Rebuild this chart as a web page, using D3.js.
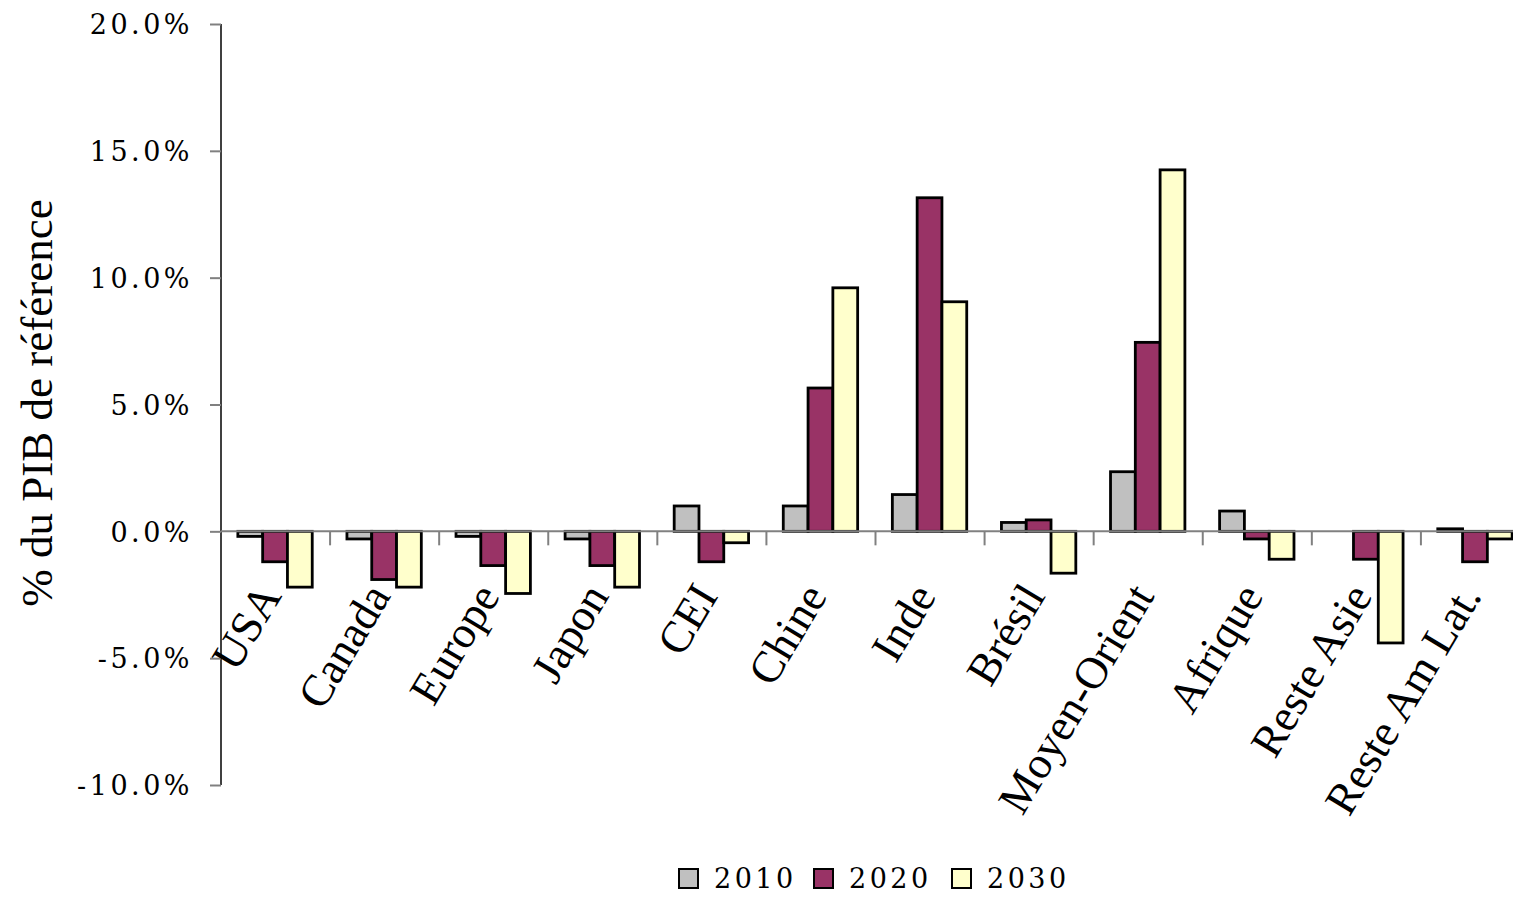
<!DOCTYPE html>
<html>
<head>
<meta charset="utf-8">
<script src="https://cdn.jsdelivr.net/npm/d3@7"></script>
<style>
  body { margin: 0; background: #fff; }
  svg { display: block; }
</style>
</head>
<body>
<svg id="chart" width="1513" height="897"></svg>
<script>
// regions, series and values (% of reference GDP)
var categories = ['USA', 'Canada', 'Europe', 'Japon', 'CEI', 'Chine', 'Inde', 'Brésil',
                  'Moyen-Orient', 'Afrique', 'Reste Asie', 'Reste Am Lat.'];
var seriesNames = ['2010', '2020', '2030'];
var values2010 = [-0.2, -0.3, -0.2, -0.3, 1.0, 1.0, 1.45, 0.35, 2.35, 0.8, 0.0, 0.1];
var values2020 = [-1.2, -1.9, -1.35, -1.35, -1.2, 5.65, 13.15, 0.45, 7.45, -0.3, -1.1, -1.2];
var values2030 = [-2.2, -2.2, -2.45, -2.2, -0.45, 9.6, 9.05, -1.65, 14.25, -1.1, -4.4, -0.3];
var yTicks = [-10, -5, 0, 5, 10, 15, 20];
var colors = ['#c0c0c0', '#993366', '#ffffcc'];

var allValues = [values2010, values2020, values2030];

var svg = d3.select('#chart');

var x = d3.scaleBand()
    .domain(categories)
    .range([221, 1530])
    .paddingInner(0)
    .paddingOuter(0);

var y = d3.scaleLinear()
    .domain([-10, 20])
    .range([785, 24]);

// 140% gap between groups, as in the spreadsheet
var barW = x.bandwidth() / 4.4;

var xs = d3.scaleBand()
    .domain(seriesNames)
    .range([barW * 0.68, barW * 3.68]);

//// y axis
var yAxis = svg.append('g')
    .attr('transform', 'translate(221,0)')
    .call(d3.axisLeft(y)
        .tickValues(yTicks)
        .tickSize(11)
        .tickPadding(17)
        .tickFormat(function (d) { return d.toFixed(1) + '%'; }));

yAxis.select('.domain')
    .attr('stroke', '#000')
    .attr('stroke-width', 1.5)
    .attr('d', 'M0,' + y(20) + 'V' + y(-10));
yAxis.selectAll('.tick line')
    .attr('stroke', '#808080')
    .attr('stroke-width', 2);
yAxis.selectAll('.tick text')
    .attr('fill', '#000')
    .attr('font-family', '"DejaVu Serif", Georgia, serif')
    .attr('font-size', 27)
    .attr('letter-spacing', 3.5)
    .attr('dy', '0.36em');

//// bars
var groups = svg.append('g')
  .selectAll('g')
  .data(categories)
  .join('g')
    .attr('transform', function (d) { return 'translate(' + x(d) + ',0)'; });

groups.selectAll('rect')
  .data(function (d, i) {
    return seriesNames.map(function (s, j) { return {s: s, v: allValues[j][i], c: colors[j]}; })
        .filter(function (e) { return e.v !== 0; });
  })
  .join('rect')
    .attr('x', function (d) { return xs(d.s); })
    .attr('width', xs.bandwidth())
    .attr('y', function (d) { return y(Math.max(0, d.v)); })
    .attr('height', function (d) { return Math.abs(y(d.v) - y(0)); })
    .attr('fill', function (d) { return d.c; })
    .attr('stroke', '#000')
    .attr('stroke-width', 2.8);

//// zero line with category ticks
var xAxis = svg.append('g')
    .attr('transform', 'translate(0,' + y(0) + ')');

xAxis.append('line')
    .attr('x1', 221)
    .attr('x2', 1530)
    .attr('stroke', '#808080')
    .attr('stroke-width', 2);

xAxis.selectAll('line.tick')
  .data(categories.slice(1))
  .join('line')
    .attr('class', 'tick')
    .attr('x1', function (d) { return x(d); })
    .attr('x2', function (d) { return x(d); })
    .attr('y1', 0)
    .attr('y2', 14)
    .attr('stroke', '#808080')
    .attr('stroke-width', 2);

// rotated category labels
svg.append('g')
  .selectAll('text')
  .data(categories)
  .join('text')
    .attr('transform', function (d) {
      return 'translate(' + (x(d) + x.bandwidth() / 2 + 7) + ',' + 596 + ') rotate(-59)';
    })
    .attr('text-anchor', 'end')
    .attr('font-family', '"Liberation Serif", "Times New Roman", serif')
    .attr('font-size', 45)
    .text(function (d) { return d; });

//// y axis title
svg.append('text')
    .attr('transform', 'translate(52,403) rotate(-90)')
    .attr('text-anchor', 'middle')
    .attr('font-family', '"Liberation Serif", "Times New Roman", serif')
    .attr('font-size', 45)
    .text('% du PIB de référence');

//// legend
var legendX = [679, 814, 952];
var legend = svg.append('g')
  .selectAll('g')
  .data(seriesNames)
  .join('g')
    .attr('transform', function (d, i) { return 'translate(' + legendX[i] + ',869)'; });

legend.append('rect')
    .attr('width', 19)
    .attr('height', 19)
    .attr('fill', function (d, i) { return colors[i]; })
    .attr('stroke', '#000')
    .attr('stroke-width', 2);

legend.append('text')
    .attr('x', 35)
    .attr('y', 19)
    .attr('font-family', '"DejaVu Serif", Georgia, serif')
    .attr('font-size', 27)
    .attr('letter-spacing', 3.5)
    .text(function (d) { return d; });
</script>
</body>
</html>
